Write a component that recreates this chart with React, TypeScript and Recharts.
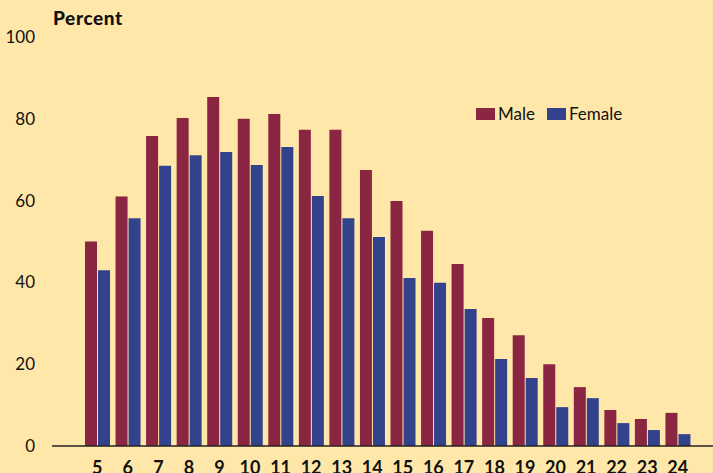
import { BarChart, Bar, XAxis, YAxis } from 'recharts'

const ages = ['5', '6', '7', '8', '9', '10', '11', '12', '13', '14', '15', '16', '17', '18', '19', '20', '21', '22', '23', '24']
const male = [50, 61, 75.8, 80.2, 85.3, 80, 81.2, 77.3, 77.3, 67.5, 59.9, 52.6, 44.5, 31.3, 27.1, 20, 14.4, 8.8, 6.6, 8.1]
const female = [43, 55.7, 68.5, 71.1, 71.9, 68.7, 73.1, 61.1, 55.7, 51.1, 41.1, 39.9, 33.5, 21.3, 16.6, 9.5, 11.7, 5.6, 3.9, 2.9]
const yTicks = [0, 20, 40, 60, 80, 100]

const data = ages.map((age, i) => ({ age, male: male[i], female: female[i] }))

const BG = '#FFE7A9'
const MALE = '#8A2641'
const FEMALE = '#33438B'
const FONT = 'Lato, "Open Sans", sans-serif'

function LegendBox(): JSX.Element {
  const items = [
    { name: 'Male', color: MALE },
    { name: 'Female', color: FEMALE }
  ]
  return (
    <div style={{ display: 'flex', alignItems: 'center', fontFamily: FONT, fontSize: 17, color: '#111' }}>
      {items.map((it) => (
        <div key={it.name} style={{ display: 'flex', alignItems: 'center', marginRight: 12 }}>
          <span style={{ display: 'inline-block', width: 19, height: 12, background: it.color, marginRight: 3 }} />
          <span>{it.name}</span>
        </div>
      ))}
    </div>
  )
}

export default function App(): JSX.Element {
  return (
    <div style={{ position: 'absolute', left: 0, top: 0, width: 713, height: 473, background: BG, overflow: 'hidden' }}>
      <div
        style={{
          position: 'absolute', left: 53, top: 6, fontFamily: FONT, fontWeight: 900,
          fontSize: 19, letterSpacing: 0.6, color: '#111'
        }}
      >
        Percent
      </div>
      <div style={{ position: 'absolute', left: 476, top: 103 }}>
        <LegendBox />
      </div>
      <BarChart
        width={713}
        height={473}
        data={data}
        margin={{ top: 37, right: 0, bottom: 0, left: 0 }}
        barSize={12}
        barGap={1}
      >
        <XAxis
          dataKey="age"
          height={27}
          padding={{ left: 30, right: 20 }}
          tickLine={false}
          tickSize={0}
          tickMargin={15}
          axisLine={{ stroke: '#222', strokeWidth: 1.5 }}
          tick={{ fill: '#111', fontSize: 18, fontWeight: 700, fontFamily: FONT }}
          interval={0}
        />
        <YAxis
          width={52}
          domain={[0, 100]}
          ticks={yTicks}
          axisLine={false}
          tickLine={false}
          tickSize={0}
          tickMargin={17}
          tick={{ fill: '#111', fontSize: 17, fontFamily: FONT }}
        />
        <Bar dataKey="male" name="Male" fill={MALE} isAnimationActive={false} />
        <Bar dataKey="female" name="Female" fill={FEMALE} isAnimationActive={false} />
      </BarChart>
    </div>
  )
}
